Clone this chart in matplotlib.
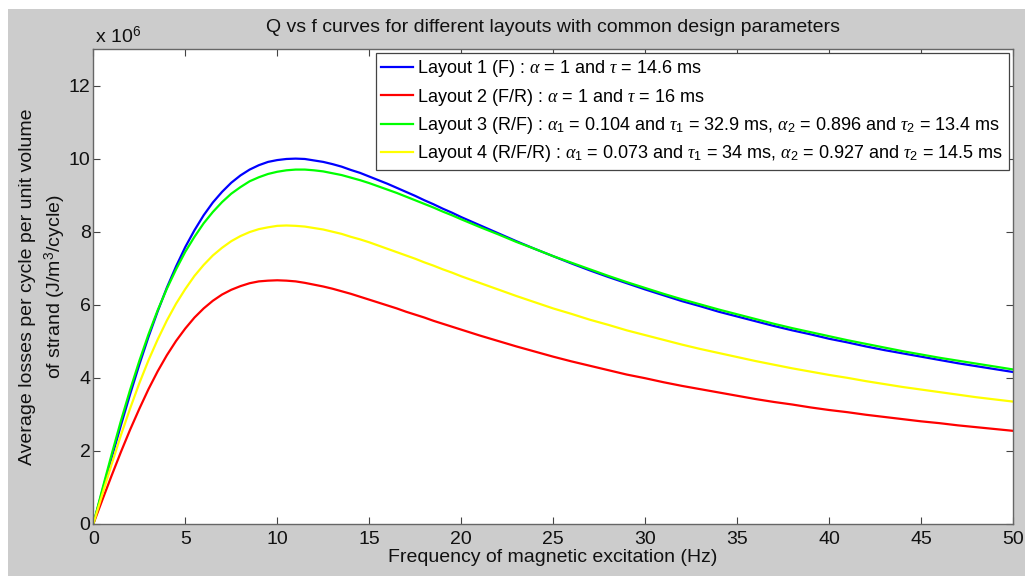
import matplotlib
matplotlib.use("Agg")
import matplotlib.pyplot as plt
from matplotlib.patches import Rectangle

plt.rcParams["font.family"] = ["Liberation Sans", "DejaVu Sans"]
plt.rcParams["mathtext.fontset"] = "custom"
plt.rcParams["mathtext.rm"] = "Liberation Sans"
plt.rcParams["mathtext.it"] = "Liberation Serif:italic"
plt.rcParams["mathtext.bf"] = "Liberation Sans:bold"

# Frequency (Hz) and average losses per cycle (x 10^6 J/m^3/cycle)
freq = [0, 0.5, 1, 1.5, 2, 2.5, 3, 3.5, 4, 4.5, 5, 5.5, 6, 6.5, 7, 7.5, 8, 8.5, 9, 9.5,
        10, 10.5, 11, 11.5, 12, 12.5, 13, 13.5, 14, 14.5, 15, 15.5, 16, 16.5, 17, 17.5,
        18, 18.5, 19, 19.5,
        20, 21, 22, 23, 24, 25, 26, 27, 28, 29, 30, 31, 32, 33, 34, 35, 36, 37, 38, 39,
        40, 41, 42, 43, 44, 45, 46, 47, 48, 49, 50]
layout1 = [0.00, 0.92, 1.82, 2.70, 3.55, 4.36, 5.12, 5.82, 6.47, 7.05, 7.58, 8.04, 8.45,
           8.80, 9.09, 9.34, 9.54, 9.70, 9.82, 9.91, 9.96, 9.99, 10.00, 9.99, 9.95, 9.91,
           9.85, 9.78, 9.69, 9.61, 9.51, 9.41, 9.31, 9.20, 9.09, 8.98, 8.86, 8.75, 8.63,
           8.52,
           8.40, 8.18, 7.96, 7.74, 7.53, 7.33, 7.13, 6.94, 6.76, 6.59, 6.42, 6.26, 6.10,
           5.96, 5.81, 5.68, 5.55, 5.42, 5.30, 5.19, 5.07, 4.97, 4.86, 4.76, 4.67, 4.58,
           4.49, 4.40, 4.32, 4.24, 4.16]
layout2 = [0.00, 0.67, 1.33, 1.97, 2.58, 3.15, 3.69, 4.18, 4.62, 5.01, 5.35, 5.65, 5.90,
           6.11, 6.28, 6.41, 6.51, 6.59, 6.64, 6.66, 6.67, 6.66, 6.64, 6.60, 6.55, 6.50,
           6.44, 6.37, 6.30, 6.22, 6.14, 6.06, 5.98, 5.90, 5.81, 5.73, 5.65, 5.56, 5.48,
           5.40,
           5.32, 5.16, 5.01, 4.86, 4.72, 4.58, 4.45, 4.33, 4.21, 4.09, 3.99, 3.88, 3.78,
           3.69, 3.60, 3.51, 3.42, 3.34, 3.27, 3.19, 3.12, 3.06, 2.99, 2.93, 2.87, 2.81,
           2.76, 2.70, 2.65, 2.60, 2.55]
layout3 = [0.00, 0.97, 1.91, 2.82, 3.67, 4.46, 5.19, 5.85, 6.44, 6.97, 7.45, 7.86, 8.23,
           8.54, 8.81, 9.04, 9.22, 9.38, 9.49, 9.58, 9.64, 9.68, 9.70, 9.70, 9.68, 9.65,
           9.60, 9.55, 9.48, 9.41, 9.33, 9.24, 9.15, 9.06, 8.96, 8.86, 8.76, 8.66, 8.55,
           8.45,
           8.34, 8.13, 7.93, 7.72, 7.53, 7.33, 7.15, 6.97, 6.79, 6.62, 6.46, 6.30, 6.15,
           6.01, 5.87, 5.74, 5.61, 5.48, 5.36, 5.25, 5.14, 5.03, 4.93, 4.83, 4.73, 4.64,
           4.55, 4.47, 4.39, 4.31, 4.23]
layout4 = [0.00, 0.83, 1.64, 2.43, 3.16, 3.85, 4.48, 5.05, 5.57, 6.03, 6.43, 6.79, 7.09,
           7.35, 7.56, 7.74, 7.88, 7.99, 8.07, 8.12, 8.16, 8.17, 8.16, 8.14, 8.10, 8.06,
           8.00, 7.94, 7.86, 7.79, 7.71, 7.62, 7.53, 7.44, 7.35, 7.26, 7.16, 7.07, 6.97,
           6.88,
           6.78, 6.60, 6.42, 6.24, 6.07, 5.90, 5.75, 5.59, 5.45, 5.30, 5.17, 5.04, 4.91,
           4.79, 4.68, 4.57, 4.46, 4.36, 4.26, 4.17, 4.08, 4.00, 3.91, 3.83, 3.75, 3.68,
           3.61, 3.54, 3.47, 3.41, 3.35]

labels = [
    r"Layout 1 (F) : $\alpha$ = 1 and $\tau$ = 14.6 ms",
    r"Layout 2 (F/R) : $\alpha$ = 1 and $\tau$ = 16 ms",
    r"Layout 3 (R/F) : $\alpha_1$ = 0.104 and $\tau_1$ = 32.9 ms, $\alpha_2$ = 0.896 and $\tau_2$ = 13.4 ms",
    r"Layout 4 (R/F/R) : $\alpha_1$ = 0.073 and $\tau_1$ = 34 ms, $\alpha_2$ = 0.927 and $\tau_2$ = 14.5 ms",
]
colors = ["#0000ff", "#ff0000", "#00ff00", "#ffff00"]
xticks = [0, 5, 10, 15, 20, 25, 30, 35, 40, 45, 50]
yticks = [0, 2, 4, 6, 8, 10, 12]

W, H = 1025, 576
fig = plt.figure(figsize=(W / 100, H / 100), dpi=100, facecolor="white")
fig.patches.append(Rectangle((8 / W, 0), 1 - 8 / W, 1 - 9 / H, transform=fig.transFigure,
                             facecolor="#cccccc", edgecolor="none", zorder=-10))

ax = fig.add_axes([93.3 / W, 1 - 524 / H, (1013 - 93.3) / W, (524 - 49) / H])
ax.set_facecolor("white")

for ys, c, lab in zip([layout1, layout2, layout3, layout4], colors, labels):
    ax.plot(freq, ys, color=c, lw=1.6, label=lab)

ax.set_xlim(0, 50)
ax.set_ylim(0, 13)
ax.set_xticks(xticks)
ax.set_yticks(yticks)
ax.tick_params(direction="in", length=5, width=0.8, colors="#444444", labelsize=14,
               labelcolor="#111111", top=True, right=True)
ax.tick_params(axis="x", pad=5)
ax.tick_params(axis="y", pad=2)
for s in ax.spines.values():
    s.set_color("#666666")
    s.set_linewidth(1.0)

ax.set_title("Q vs f curves for different layouts with common design parameters",
             fontsize=14, color="#111111", pad=12)
ax.set_xlabel("Frequency of magnetic excitation (Hz)", fontsize=14, color="#111111", labelpad=1)
ax.set_ylabel("Average losses per cycle per unit volume\nof strand (J/m$^3$/cycle)",
              fontsize=14, color="#111111", linespacing=1.4)
ax.yaxis.set_label_coords(-0.027, 0.5)
ax.text(0.002, 1.0 + 6 / 475, r"x 10$^6$", transform=ax.transAxes, fontsize=14, color="#111111",
        ha="left", va="baseline")

leg = ax.legend(loc="upper right", bbox_to_anchor=(1009 / W, 1 - 53 / H),
                bbox_transform=fig.transFigure, borderaxespad=0, fontsize=13,
                fancybox=False, framealpha=1, edgecolor="#444444", handlelength=1.75,
                handletextpad=0.25, borderpad=0.3, labelspacing=0.4)
leg.get_frame().set_linewidth(0.9)

fig.savefig("out.png", dpi=100, facecolor=fig.get_facecolor())
